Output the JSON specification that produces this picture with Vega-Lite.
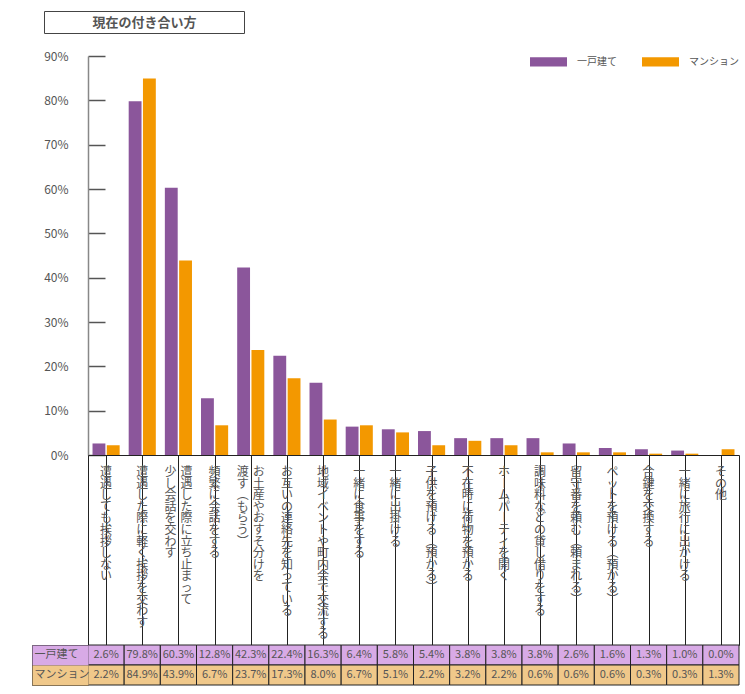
{
  "$schema": "https://vega.github.io/schema/vega-lite/v6.json",
  "background": "white",
  "padding": {"left": 22, "top": 5, "right": 4, "bottom": 4},
  "config": {
    "view": {"stroke": null},
    "font": "Noto Sans CJK JP",
    "axis": {"labelFont": "Noto Sans CJK JP", "labelColor": "#555"},
    "legend": {"labelFont": "Noto Sans CJK JP", "labelColor": "#555"},
    "text": {"font": "Noto Sans CJK JP"}
  },
  "datasets": {
    "vals": [
      {"cat": "遭遇しても挨拶しない", "series": "一戸建て", "value": 0.026},
      {"cat": "遭遇しても挨拶しない", "series": "マンション", "value": 0.022},
      {"cat": "遭遇した際に軽く挨拶を交わす", "series": "一戸建て", "value": 0.798},
      {"cat": "遭遇した際に軽く挨拶を交わす", "series": "マンション", "value": 0.849},
      {"cat": "遭遇した際に立ち止まって少し会話を交わす", "series": "一戸建て", "value": 0.603},
      {"cat": "遭遇した際に立ち止まって少し会話を交わす", "series": "マンション", "value": 0.439},
      {"cat": "頻繁に会話をする", "series": "一戸建て", "value": 0.128},
      {"cat": "頻繁に会話をする", "series": "マンション", "value": 0.067},
      {"cat": "お土産やおすそ分けを渡す（もらう）", "series": "一戸建て", "value": 0.423},
      {"cat": "お土産やおすそ分けを渡す（もらう）", "series": "マンション", "value": 0.237},
      {"cat": "お互いの連絡先を知っている", "series": "一戸建て", "value": 0.224},
      {"cat": "お互いの連絡先を知っている", "series": "マンション", "value": 0.173},
      {"cat": "地域イベントや町内会で交流する", "series": "一戸建て", "value": 0.163},
      {"cat": "地域イベントや町内会で交流する", "series": "マンション", "value": 0.080},
      {"cat": "一緒に食事をする", "series": "一戸建て", "value": 0.064},
      {"cat": "一緒に食事をする", "series": "マンション", "value": 0.067},
      {"cat": "一緒に出掛ける", "series": "一戸建て", "value": 0.058},
      {"cat": "一緒に出掛ける", "series": "マンション", "value": 0.051},
      {"cat": "子供を預ける（預かる）", "series": "一戸建て", "value": 0.054},
      {"cat": "子供を預ける（預かる）", "series": "マンション", "value": 0.022},
      {"cat": "不在時に荷物を預かる", "series": "一戸建て", "value": 0.038},
      {"cat": "不在時に荷物を預かる", "series": "マンション", "value": 0.032},
      {"cat": "ホームパーティを開く", "series": "一戸建て", "value": 0.038},
      {"cat": "ホームパーティを開く", "series": "マンション", "value": 0.022},
      {"cat": "調味料などの貸し借りをする", "series": "一戸建て", "value": 0.038},
      {"cat": "調味料などの貸し借りをする", "series": "マンション", "value": 0.006},
      {"cat": "留守番を頼む（頼まれる）", "series": "一戸建て", "value": 0.026},
      {"cat": "留守番を頼む（頼まれる）", "series": "マンション", "value": 0.006},
      {"cat": "ペットを預ける（預かる）", "series": "一戸建て", "value": 0.016},
      {"cat": "ペットを預ける（預かる）", "series": "マンション", "value": 0.006},
      {"cat": "合鍵を交換する", "series": "一戸建て", "value": 0.013},
      {"cat": "合鍵を交換する", "series": "マンション", "value": 0.003},
      {"cat": "一緒に旅行に出かける", "series": "一戸建て", "value": 0.010},
      {"cat": "一緒に旅行に出かける", "series": "マンション", "value": 0.003},
      {"cat": "その他", "series": "一戸建て", "value": 0.000},
      {"cat": "その他", "series": "マンション", "value": 0.013}
    ],
    "cats": [
      {"cat": "遭遇しても挨拶しない", "l1": "遭遇しても挨拶しない"},
      {"cat": "遭遇した際に軽く挨拶を交わす", "l1": "遭遇した際に軽く挨拶を交わす"},
      {"cat": "遭遇した際に立ち止まって少し会話を交わす", "l1": "遭遇した際に立ち止まって", "l2": "少し会話を交わす"},
      {"cat": "頻繁に会話をする", "l1": "頻繁に会話をする"},
      {"cat": "お土産やおすそ分けを渡す（もらう）", "l1": "お土産やおすそ分けを", "l2": "渡す（もらう）"},
      {"cat": "お互いの連絡先を知っている", "l1": "お互いの連絡先を知っている"},
      {"cat": "地域イベントや町内会で交流する", "l1": "地域イベントや町内会で交流する"},
      {"cat": "一緒に食事をする", "l1": "一緒に食事をする"},
      {"cat": "一緒に出掛ける", "l1": "一緒に出掛ける"},
      {"cat": "子供を預ける（預かる）", "l1": "子供を預ける（預かる）"},
      {"cat": "不在時に荷物を預かる", "l1": "不在時に荷物を預かる"},
      {"cat": "ホームパーティを開く", "l1": "ホームパーティを開く"},
      {"cat": "調味料などの貸し借りをする", "l1": "調味料などの貸し借りをする"},
      {"cat": "留守番を頼む（頼まれる）", "l1": "留守番を頼む（頼まれる）"},
      {"cat": "ペットを預ける（預かる）", "l1": "ペットを預ける（預かる）"},
      {"cat": "合鍵を交換する", "l1": "合鍵を交換する"},
      {"cat": "一緒に旅行に出かける", "l1": "一緒に旅行に出かける"},
      {"cat": "その他", "l1": "その他"}
    ]
  },
  "columns": 1,
  "align": "none",
  "spacing": 9,
  "resolve": {"scale": {"color": "independent", "fill": "independent"}, "legend": {"color": "independent", "fill": "independent"}},
  "concat": [
    {
      "width": 156,
      "height": 22,
      "data": {"values": [{"t": "現在の付き合い方"}]},
      "encoding": {
        "x": {"field": "t", "type": "nominal", "axis": null}
      },
      "layer": [
        {
          "mark": {"type": "text", "text": ""},
          "encoding": {
            "y": {
              "field": "t", "type": "nominal",
              "scale": {"type": "band", "paddingInner": 0, "paddingOuter": 0},
              "axis": {
                "orient": "right", "title": null,
                "domain": true, "domainColor": "#444", "domainWidth": 1,
                "ticks": true, "tickBand": "extent", "tickSize": -200, "tickColor": "#444", "tickWidth": 1,
                "labels": true, "labelPadding": 100, "labelAlign": "center",
                "labelFontSize": 13, "labelFontWeight": "bold", "labelColor": "#555"
              }
            }
          }
        },
        {
          "mark": {"type": "text", "text": ""},
          "encoding": {
            "y": {
              "field": "t", "type": "nominal",
              "scale": {"type": "band", "paddingInner": 0, "paddingOuter": 0},
              "axis": {
                "orient": "left", "title": null, "offset": 44,
                "domain": true, "domainColor": "#444", "domainWidth": 1,
                "ticks": false, "labels": false
              }
            }
          }
        }
      ],
      "resolve": {"scale": {"y": "independent"}, "axis": {"y": "independent"}}
    },
    {
      "vconcat": [
        {
          "width": 651,
          "height": 399,
          "data": {"name": "vals"},
          "mark": {"type": "bar"},
          "encoding": {
            "x": {
              "field": "cat", "type": "nominal",
              "sort": ["遭遇しても挨拶しない", "遭遇した際に軽く挨拶を交わす", "遭遇した際に立ち止まって少し会話を交わす", "頻繁に会話をする", "お土産やおすそ分けを渡す（もらう）", "お互いの連絡先を知っている", "地域イベントや町内会で交流する", "一緒に食事をする", "一緒に出掛ける", "子供を預ける（預かる）", "不在時に荷物を預かる", "ホームパーティを開く", "調味料などの貸し借りをする", "留守番を頼む（頼まれる）", "ペットを預ける（預かる）", "合鍵を交換する", "一緒に旅行に出かける", "その他"],
              "scale": {"paddingInner": 0.25, "paddingOuter": 0.125}, "axis": null
            },
            "xOffset": {"field": "series", "type": "nominal", "sort": ["一戸建て", "マンション"], "scale": {"paddingInner": 0.1}},
            "y": {
              "field": "value", "type": "quantitative",
              "scale": {"domain": [0, 0.9], "nice": false},
              "axis": {
                "values": [0, 0.1, 0.2, 0.3, 0.4, 0.5, 0.6, 0.7, 0.8, 0.9],
                "format": ".0%", "title": null, "grid": false,
                "domainColor": "#888", "domainWidth": 1.5,
                "tickSize": -17, "tickColor": "#555", "tickWidth": 1.5,
                "labelPadding": 37, "labelFontSize": 12, "labelColor": "#555"
              }
            },
            "color": {
              "field": "series", "type": "nominal",
              "scale": {"domain": ["一戸建て", "マンション"], "range": ["#8b569b", "#f39800"]},
              "legend": {
                "title": null, "orient": "none", "legendX": 442, "legendY": -13,
                "direction": "horizontal", "padding": 0,
                "symbolType": "M-1,-0.25H1V0.25H-1Z", "symbolSize": 1369, "symbolStrokeWidth": 0,
                "labelFontSize": 10, "labelColor": "#555", "labelOffset": 10, "columnPadding": 25
              }
            }
          }
        },
        {
          "width": 651,
          "height": 190,
          "view": {"stroke": "#222", "strokeWidth": 1},
          "data": {"name": "cats"},
          "transform": [
            {"calculate": "split(join(split(join(split(join(split(datum.l1, '（'), '︵'), '）'), '︶'), 'ー'), '︱'), '')", "as": "c1"}
          ],
          "encoding": {
            "x": {
              "field": "cat", "type": "nominal",
              "sort": ["遭遇しても挨拶しない", "遭遇した際に軽く挨拶を交わす", "遭遇した際に立ち止まって少し会話を交わす", "頻繁に会話をする", "お土産やおすそ分けを渡す（もらう）", "お互いの連絡先を知っている", "地域イベントや町内会で交流する", "一緒に食事をする", "一緒に出掛ける", "子供を預ける（預かる）", "不在時に荷物を預かる", "ホームパーティを開く", "調味料などの貸し借りをする", "留守番を頼む（頼まれる）", "ペットを預ける（預かる）", "合鍵を交換する", "一緒に旅行に出かける", "その他"],
              "scale": {"paddingInner": 0, "paddingOuter": 0},
              "axis": {"title": null, "labels": false, "ticks": false, "domain": false, "grid": true, "bandPosition": 0, "gridColor": "#222", "gridOpacity": 1, "gridWidth": 1}
            }
          },
          "layer": [
            {
              "transform": [{"filter": "!datum.l2"}],
              "mark": {"type": "text", "baseline": "top", "y": 0, "dy": 12, "fontSize": 12, "lineHeight": 11.6, "color": "#555"},
              "encoding": {"text": {"field": "c1"}}
            },
            {
              "transform": [{"filter": "datum.l2"}],
              "mark": {"type": "text", "baseline": "top", "y": 0, "dy": 12, "dx": 8, "fontSize": 12, "lineHeight": 11.6, "color": "#555"},
              "encoding": {"text": {"field": "c1"}}
            },
            {
              "transform": [
                {"filter": "datum.l2"},
                {"calculate": "split(join(split(join(split(datum.l2, '（'), '︵'), '）'), '︶'), '')", "as": "c2"}
              ],
              "mark": {"type": "text", "baseline": "top", "y": 0, "dy": 12, "dx": -8, "fontSize": 12, "lineHeight": 11.6, "color": "#555"},
              "encoding": {"text": {"field": "c2"}}
            }
          ]
        },
        {
          "width": 651,
          "height": 40,
          "data": {"name": "vals"},
          "encoding": {
            "x": {
              "field": "cat", "type": "nominal",
              "sort": ["遭遇しても挨拶しない", "遭遇した際に軽く挨拶を交わす", "遭遇した際に立ち止まって少し会話を交わす", "頻繁に会話をする", "お土産やおすそ分けを渡す（もらう）", "お互いの連絡先を知っている", "地域イベントや町内会で交流する", "一緒に食事をする", "一緒に出掛ける", "子供を預ける（預かる）", "不在時に荷物を預かる", "ホームパーティを開く", "調味料などの貸し借りをする", "留守番を頼む（頼まれる）", "ペットを預ける（預かる）", "合鍵を交換する", "一緒に旅行に出かける", "その他"],
              "scale": {"paddingInner": 0, "paddingOuter": 0}, "axis": null
            }
          },
          "layer": [
            {
              "mark": {"type": "rect", "stroke": "#222", "strokeWidth": 1},
              "encoding": {
                "y": {
                  "field": "series", "type": "nominal", "sort": ["一戸建て", "マンション"],
                  "scale": {"type": "band", "paddingInner": 0, "paddingOuter": 0},
                  "axis": {
                    "orient": "left", "title": null, "domain": false,
                    "ticks": true, "tickSize": 56, "tickWidth": 20,
                    "tickColor": {"condition": {"test": "datum.value === '一戸建て'", "value": "#d8aae6"}, "value": "#f0c88a"},
                    "labelAlign": "left", "labelPadding": -2, "labelFontSize": 11, "labelColor": "#555"
                  }
                },
                "fill": {
                  "field": "series", "type": "nominal",
                  "scale": {"domain": ["一戸建て", "マンション"], "range": ["#d8aae6", "#f0c88a"]},
                  "legend": null
                }
              }
            },
            {
              "mark": {"type": "text", "fontSize": 11, "color": "#555"},
              "encoding": {
                "y": {
                  "field": "series", "type": "nominal", "sort": ["一戸建て", "マンション"],
                  "scale": {"type": "band", "paddingInner": 0, "paddingOuter": 0},
                  "axis": {
                    "orient": "left", "title": null, "labels": false,
                    "domain": true, "domainColor": "#222", "offset": 56,
                    "ticks": true, "tickBand": "extent", "tickSize": -56, "tickColor": "#222", "tickWidth": 1
                  }
                },
                "text": {"field": "value", "type": "quantitative", "format": ".1%"}
              }
            }
          ],
          "resolve": {"scale": {"y": "independent"}, "axis": {"y": "independent"}}
        }
      ],
      "spacing": 0,
      "bounds": "flush",
      "resolve": {"scale": {"color": "independent", "fill": "independent"}, "legend": {"color": "independent", "fill": "independent"}}
    }
  ]
}
